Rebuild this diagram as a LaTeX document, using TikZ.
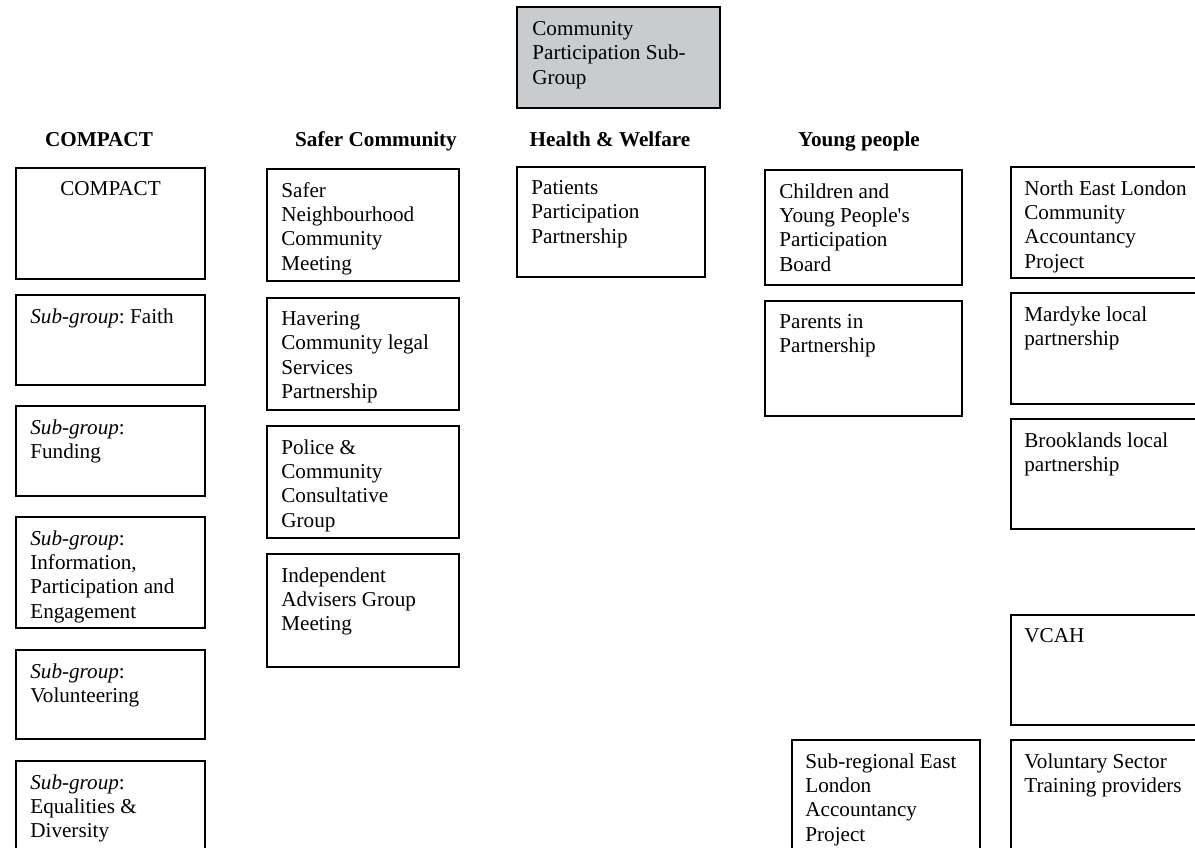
\documentclass[tikz,border=0pt]{standalone}
\usepackage{fontspec}
\setmainfont{Liberation Serif}
\usetikzlibrary{fit}
\definecolor{boxgray}{RGB}{200,204,206}
\frenchspacing
\begin{document}
\begin{tikzpicture}[x=0.567pt, y=-0.567pt,
        box/.style={draw, line width=0.6pt, inner sep=0pt},
        txt/.style={anchor=north west, inner sep=0pt, align=left,
            font=\fontsize{12}{13.8}\selectfont},
        head/.style={anchor=base, inner sep=0pt,
            font=\fontsize{12}{13.8}\selectfont\bfseries}]
        % Page (right column and last row run off the page)
        \useasboundingbox (0,0) rectangle (1195,848);
        \clip (0,0) rectangle (1195,848);

        % Top box
        \node[box, fill=boxgray, fit={(517,7) (720,108)}] (cp) {};
        \node[txt] (cp-t) at (532,21) {Community\\Participation Sub-\\Group};

        % Headings
        \node[head] (h-compact) at (99,147) {COMPACT};
        \node[head] (h-safer) at (376,147) {Safer Community};
        \node[head] (h-health) at (610,147) {Health \& Welfare};
        \node[head] (h-young) at (859,147) {Young people};

        % COMPACT
        \node[box, fit={(16,168) (205,279)}] (compact) {};
        \node[txt, anchor=base] (compact-t) at (110.5,195) {COMPACT};
        \node[box, fit={(16,295) (205,385)}] (faith) {};
        \node[txt] (faith-t) at (30,308) {\emph{Sub-group}: Faith};
        \node[box, fit={(16,406) (205,496)}] (funding) {};
        \node[txt] (funding-t) at (30,419) {\emph{Sub-group}:\\Funding};
        \node[box, fit={(16,517) (205,628)}] (info) {};
        \node[txt] (info-t) at (30,530) {\emph{Sub-group}:\\Information,\\Participation and\\Engagement};
        \node[box, fit={(16,650) (205,739)}] (volunteer) {};
        \node[txt] (volunteer-t) at (30,663) {\emph{Sub-group}:\\Volunteering};
        \node[box, fit={(16,761) (205,870)}] (equal) {};
        \node[txt] (equal-t) at (30,774) {\emph{Sub-group}:\\Equalities \&\\Diversity};

        % Safer Community
        \node[box, fit={(267,169) (459,281)}] (safer) {};
        \node[txt] (safer-t) at (281,182) {Safer\\Neighbourhood\\Community\\Meeting};
        \node[box, fit={(267,298) (459,410)}] (havering) {};
        \node[txt] (havering-t) at (281,311) {Havering\\Community legal\\Services\\Partnership};
        \node[box, fit={(267,426) (459,538)}] (police) {};
        \node[txt] (police-t) at (281,439) {Police \&\\Community\\Consultative\\Group};
        \node[box, fit={(267,554) (459,667)}] (advisers) {};
        \node[txt] (advisers-t) at (281,567) {Independent\\Advisers Group\\Meeting};

        % Health & Welfare
        \node[box, fit={(517,167) (705,277)}] (patients) {};
        \node[txt] (patients-t) at (531,180) {Patients\\Participation\\Partnership};

        % Young people
        \node[box, fit={(765,170) (962,285)}] (children) {};
        \node[txt] (children-t) at (779,183) {Children and\\Young People\textquotesingle s\\Participation\\Board};
        \node[box, fit={(765,301) (962,416)}] (parents) {};
        \node[txt] (parents-t) at (779,314) {Parents in\\Partnership};
        \node[box, fit={(792,740) (980,870)}] (subreg) {};
        \node[txt] (subreg-t) at (805,753) {Sub-regional East\\London\\Accountancy\\Project};

        % Right column
        \node[box, fit={(1011,167) (1210,278)}] (nel) {};
        \node[txt] (nel-t) at (1024,180) {North East London\\Community\\Accountancy\\Project};
        \node[box, fit={(1011,293) (1210,404)}] (mardyke) {};
        \node[txt] (mardyke-t) at (1024,306) {Mardyke local\\partnership};
        \node[box, fit={(1011,419) (1210,529)}] (brook) {};
        \node[txt] (brook-t) at (1024,432) {Brooklands local\\partnership};
        \node[box, fit={(1011,615) (1210,725)}] (vcah) {};
        \node[txt] (vcah-t) at (1024,628) {VCAH};
        \node[box, fit={(1011,740) (1210,870)}] (vst) {};
        \node[txt] (vst-t) at (1024,753) {Voluntary Sector\\Training providers};
    \end{tikzpicture}
\end{document}
